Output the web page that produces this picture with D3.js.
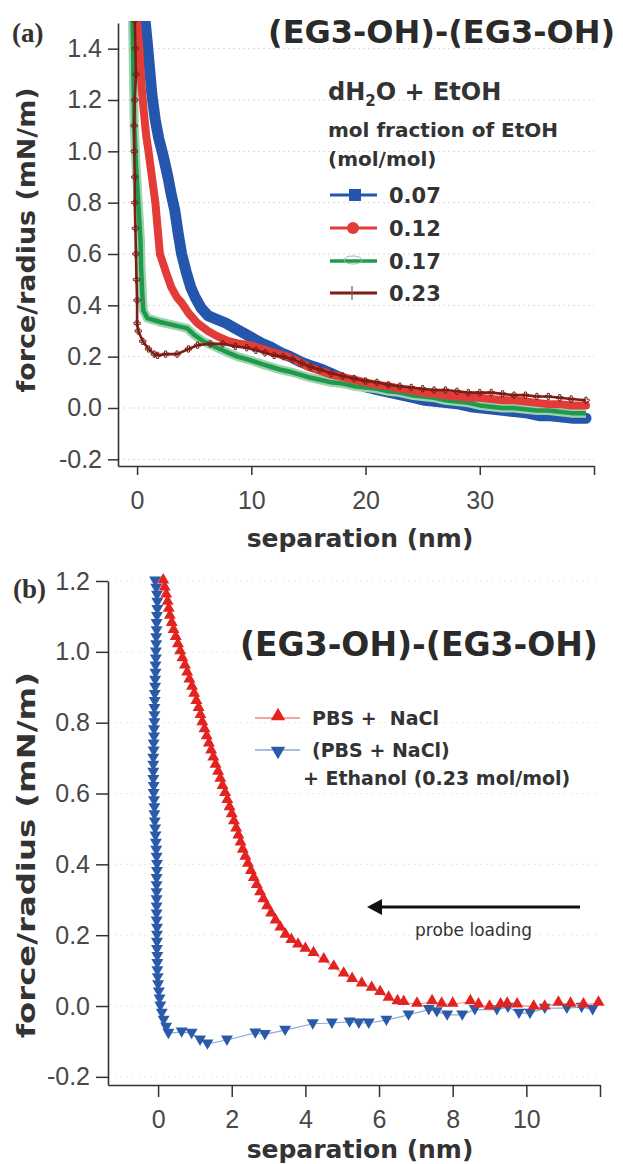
<!DOCTYPE html>
<html>
<head>
<meta charset="utf-8">
<script src="https://cdn.jsdelivr.net/npm/d3@7"></script>
<style>
  html, body { margin: 0; padding: 0; background: #fff; }
  svg { display: block; }
  .bold { font-family: "DejaVu Sans", Verdana, sans-serif; font-weight: bold; }
  .tick text { font-family: "Liberation Sans", Arial, sans-serif; }
</style>
</head>
<body>
<svg id="chart" width="623" height="1164"></svg>
<script>
// ---------------- DATA ----------------
// Panel (a): force/radius (mN/m) vs separation (nm), dH2O + EtOH
const legendA = ["0.07", "0.12", "0.17", "0.23"];
const seriesA007 = [[0.7,1.51],[0.9,1.42],[1.1,1.32],[1.3,1.22],[1.6,1.12],[1.9,1.05],[2.3,0.98],[2.7,0.9],[3.0,0.83],[3.3,0.77],[3.6,0.68],[3.9,0.6],[4.3,0.53],[4.7,0.47],[5.1,0.43],[5.6,0.39],[6.2,0.36],[7.0,0.345],[7.8,0.33],[8.6,0.31],[9.4,0.29],[10.2,0.27],[11.0,0.25],[11.8,0.235],[12.6,0.215],[13.4,0.2],[14.3,0.18],[15.2,0.165],[16.2,0.15],[17.2,0.13],[18.2,0.11],[19.2,0.095],[20.2,0.08],[21.2,0.07],[22.2,0.06],[23.2,0.05],[24.2,0.04],[25.2,0.03],[26.2,0.025],[27.2,0.02],[28.2,0.015],[29.2,0.005],[30.2,0.0],[31.2,-0.005],[32.2,-0.01],[33.2,-0.015],[34.2,-0.02],[35.2,-0.03],[36.2,-0.03],[37.2,-0.035],[38.2,-0.04],[39.3,-0.04]];
const seriesA012 = [[0.0,1.51],[0.2,1.4],[0.4,1.25],[0.6,1.15],[0.8,1.06],[1.0,1.0],[1.3,0.9],[1.6,0.8],[1.8,0.7],[2.0,0.6],[2.3,0.56],[2.6,0.52],[3.0,0.47],[3.5,0.43],[3.9,0.41],[4.5,0.37],[5.3,0.33],[6.2,0.3],[7.0,0.28],[8.0,0.26],[9.0,0.25],[9.9,0.245],[11.0,0.23],[12.0,0.215],[13.2,0.2],[14.2,0.18],[15.0,0.16],[16.0,0.145],[17.0,0.13],[18.0,0.12],[19.0,0.11],[20.0,0.1],[21.0,0.09],[22.0,0.085],[23.0,0.075],[24.0,0.07],[25.0,0.06],[26.0,0.055],[27.0,0.05],[28.0,0.045],[29.0,0.04],[30.0,0.04],[31.0,0.035],[32.0,0.03],[33.0,0.03],[34.0,0.025],[35.0,0.02],[36.0,0.015],[37.0,0.015],[38.0,0.01],[39.3,0.01]];
const seriesA017 = [[-0.4,1.51],[-0.35,1.4],[-0.3,1.25],[-0.25,1.1],[-0.1,0.95],[0.1,0.8],[0.3,0.65],[0.35,0.55],[0.45,0.45],[0.55,0.38],[0.9,0.35],[2.0,0.335],[3.0,0.325],[4.4,0.31],[5.0,0.285],[5.8,0.26],[7.0,0.235],[8.0,0.215],[8.8,0.2],[10.0,0.185],[11.0,0.17],[12.5,0.15],[13.5,0.14],[15.0,0.12],[16.0,0.11],[17.0,0.1],[18.0,0.095],[19.0,0.085],[20.0,0.08],[21.0,0.075],[22.0,0.065],[23.0,0.06],[24.0,0.05],[25.0,0.045],[26.0,0.04],[27.0,0.03],[28.0,0.025],[29.0,0.02],[30.0,0.01],[31.0,0.005],[32.0,0.0],[33.0,0.0],[34.0,-0.005],[35.0,-0.01],[36.0,-0.01],[37.0,-0.015],[38.0,-0.02],[39.3,-0.02]];
const seriesA023 = [[-0.2,1.51],[-0.15,1.4],[-0.1,1.3],[-0.2,1.2],[-0.25,1.1],[-0.25,1.0],[-0.2,0.9],[-0.2,0.8],[-0.15,0.7],[-0.1,0.6],[-0.05,0.5],[0.0,0.42],[0.0,0.33],[0.1,0.3],[0.5,0.26],[1.0,0.23],[1.5,0.21],[1.8,0.205],[2.5,0.21],[3.5,0.21],[4.5,0.23],[5.3,0.245],[6.4,0.25],[7.5,0.25],[8.6,0.24],[9.6,0.235],[10.4,0.225],[11.2,0.215],[12.0,0.205],[12.8,0.2],[13.6,0.19],[14.4,0.175],[15.2,0.16],[16.0,0.15],[17.0,0.135],[18.0,0.125],[19.0,0.115],[20.0,0.105],[21.0,0.1],[22.0,0.09],[23.0,0.085],[24.0,0.08],[25.0,0.075],[26.0,0.07],[27.0,0.07],[28.0,0.065],[29.0,0.06],[30.0,0.06],[31.0,0.06],[32.0,0.055],[33.0,0.05],[34.0,0.05],[35.0,0.045],[36.0,0.045],[37.0,0.04],[38.0,0.035],[39.3,0.03]];
const yTicksA = [-0.2, 0.0, 0.2, 0.4, 0.6, 0.8, 1.0, 1.2, 1.4];
const xTicksA = [0, 10, 20, 30, 40];
const xTickLabelsA = ["0", "10", "20", "30", ""];

// Panel (b)
const legendB = ["PBS +  NaCl", "(PBS + NaCl)", "+ Ethanol (0.23 mol/mol)"];
const seriesPBS = [[0.14,1.2],[0.18,1.18],[0.22,1.16],[0.26,1.14],[0.29,1.12],[0.32,1.1],[0.37,1.08],[0.42,1.06],[0.48,1.04],[0.54,1.02],[0.6,1.0],[0.66,0.98],[0.73,0.96],[0.79,0.94],[0.85,0.92],[0.92,0.9],[0.98,0.88],[1.04,0.86],[1.1,0.84],[1.15,0.82],[1.2,0.8],[1.26,0.78],[1.32,0.76],[1.38,0.74],[1.44,0.72],[1.5,0.7],[1.56,0.68],[1.63,0.66],[1.69,0.64],[1.75,0.62],[1.82,0.6],[1.88,0.58],[1.94,0.56],[2.0,0.54],[2.06,0.52],[2.12,0.5],[2.18,0.48],[2.24,0.46],[2.3,0.44],[2.37,0.42],[2.44,0.4],[2.52,0.38],[2.6,0.36],[2.68,0.34],[2.77,0.32],[2.86,0.3],[2.96,0.28],[3.07,0.26],[3.19,0.24],[3.32,0.22],[3.46,0.2],[3.62,0.185],[3.8,0.172],[4.0,0.16],[4.22,0.148],[4.5,0.13],[4.77,0.11],[5.04,0.09],[5.27,0.075],[5.53,0.062],[5.8,0.05],[6.03,0.038],[6.26,0.022],[6.5,0.012],[6.67,0.01],[7.03,0.005],[7.44,0.012],[7.7,0.005],[8.0,0.005],[8.48,0.012],[8.7,0.003],[9.0,-0.003],[9.3,0.003],[9.48,0.005],[9.75,0.003],[10.2,-0.003],[10.5,-0.003],[10.87,0.008],[11.2,0.005],[11.55,0.003],[11.96,0.008]];
const seriesEtOH = [[-0.08,1.2],[-0.05,1.18],[-0.03,1.16],[-0.02,1.14],[-0.02,1.12],[-0.03,1.1],[-0.04,1.08],[-0.04,1.06],[-0.05,1.04],[-0.05,1.02],[-0.06,1.0],[-0.06,0.98],[-0.07,0.96],[-0.07,0.94],[-0.08,0.92],[-0.08,0.9],[-0.09,0.88],[-0.09,0.86],[-0.1,0.84],[-0.1,0.82],[-0.1,0.8],[-0.11,0.78],[-0.11,0.76],[-0.12,0.74],[-0.12,0.72],[-0.13,0.7],[-0.13,0.68],[-0.13,0.66],[-0.13,0.64],[-0.12,0.62],[-0.12,0.6],[-0.11,0.58],[-0.1,0.56],[-0.1,0.54],[-0.09,0.52],[-0.08,0.5],[-0.07,0.48],[-0.06,0.46],[-0.05,0.44],[-0.04,0.42],[-0.03,0.4],[-0.03,0.38],[-0.04,0.36],[-0.04,0.34],[-0.04,0.32],[-0.04,0.3],[-0.04,0.28],[-0.04,0.26],[-0.04,0.24],[-0.03,0.22],[-0.03,0.2],[-0.03,0.18],[-0.03,0.16],[-0.02,0.14],[-0.02,0.12],[-0.02,0.1],[-0.01,0.08],[0.0,0.06],[0.02,0.04],[0.04,0.02],[0.06,0.0],[0.1,-0.02],[0.15,-0.04],[0.22,-0.06],[0.28,-0.077],[0.64,-0.073],[0.91,-0.077],[1.14,-0.096],[1.34,-0.107],[1.87,-0.096],[2.64,-0.076],[2.9,-0.08],[3.45,-0.068],[4.2,-0.05],[4.72,-0.048],[5.2,-0.045],[5.45,-0.048],[5.72,-0.048],[6.2,-0.04],[6.8,-0.025],[7.35,-0.01],[7.57,-0.016],[7.85,-0.025],[8.26,-0.025],[8.6,-0.01],[9.2,-0.01],[9.5,-0.003],[9.8,-0.02],[10.1,-0.02],[10.5,-0.006],[11.1,-0.006],[11.5,-0.003],[11.8,-0.01]];
const yTicksB = [-0.2, 0.0, 0.2, 0.4, 0.6, 0.8, 1.0, 1.2];
const xTicksB = [0, 2, 4, 6, 8, 10, 12];
const xTickLabelsB = ["0", "2", "4", "6", "8", "10", ""];

const titleText = "(EG3-OH)-(EG3-OH)";
const xTitle = "separation (nm)";
const yTitle = "force/radius (mN/m)";

// ---------------- DRAW ----------------
const svg = d3.select("#chart");
const ink = "#333";
const tickInk = "#484848";
const fmt = d => d.toFixed(1);

// ===== Panel (a) =====
const xA = d3.scaleLinear().domain([-1.67, 40]).range([118, 594]);
const yA = d3.scaleLinear().domain([-0.226, 1.5]).range([466, 23]);

const gA = svg.append("g");
gA.append("g").selectAll("line").data(yTicksA).join("line")
  .attr("x1", xA(-1.67)).attr("x2", xA(40))
  .attr("y1", d => yA(d)).attr("y2", d => yA(d))
  .attr("stroke", "#d9d9d9").attr("stroke-width", 1).attr("stroke-dasharray", "2,3");

svg.append("clipPath").attr("id", "clipA").append("rect")
  .attr("x", xA(-1.67)).attr("y", yA(1.5) - 2).attr("width", xA(40) - xA(-1.67) + 4).attr("height", yA(-0.226) - yA(1.5) + 2);

const lineA = d3.line().x(d => xA(d[0])).y(d => yA(d[1]));
const plotA = gA.append("g").attr("clip-path", "url(#clipA)");
const colA = { b: "#2556ad", r: "#e23b38", g: "#1f9a4c", br: "#7a1f16" };

plotA.append("path").datum(seriesA007).attr("d", lineA).attr("fill", "none")
  .attr("stroke", colA.b).attr("stroke-width", 11).attr("stroke-linejoin", "round").attr("stroke-linecap", "round");
plotA.append("path").datum(seriesA017).attr("d", lineA).attr("fill", "none")
  .attr("stroke", "#9ed2ad").attr("stroke-width", 9).attr("stroke-linejoin", "round");
plotA.append("path").datum(seriesA017).attr("d", lineA).attr("fill", "none")
  .attr("stroke", colA.g).attr("stroke-width", 4.5).attr("stroke-linejoin", "round");
plotA.append("path").datum(seriesA012).attr("d", lineA).attr("fill", "none")
  .attr("stroke", colA.r).attr("stroke-width", 8).attr("stroke-linejoin", "round").attr("stroke-linecap", "round");
plotA.append("path").datum(seriesA023).attr("d", lineA).attr("fill", "none")
  .attr("stroke", colA.br).attr("stroke-width", 2.6).attr("stroke-linejoin", "round");
plotA.append("g").selectAll("path").data(seriesA023).join("path")
  .attr("transform", d => `translate(${xA(d[0])},${yA(d[1])})`)
  .attr("d", d3.symbol(d3.symbolCross, 22)())
  .attr("fill", "none").attr("stroke", colA.br).attr("stroke-width", 1);

const axAy = gA.append("g").attr("transform", `translate(${xA(-1.67)},0)`)
  .call(d3.axisLeft(yA).tickValues(yTicksA).tickFormat(fmt).tickSize(10).tickSizeOuter(0).tickPadding(6));
const axAx = gA.append("g").attr("transform", `translate(0,${yA(-0.226)})`)
  .call(d3.axisBottom(xA).tickValues(xTicksA).tickFormat((d, i) => xTickLabelsA[i]).tickSize(9).tickSizeOuter(0).tickPadding(16));
[axAy, axAx].forEach(ax => {
  ax.select(".domain").attr("stroke", ink).attr("stroke-width", 1.6);
  ax.selectAll(".tick line").attr("stroke", ink).attr("stroke-width", 1.5);
  ax.selectAll(".tick text").attr("font-size", 25).attr("fill", tickInk);
});

gA.append("text").attr("class", "bold").attr("x", 360).attr("y", 547)
  .attr("text-anchor", "middle").attr("font-size", 25).attr("fill", ink).text(xTitle);
gA.append("text").attr("class", "bold").attr("transform", "translate(35,240) rotate(-90)")
  .attr("text-anchor", "middle").attr("font-size", 25).attr("fill", ink)
  .attr("textLength", 305).attr("lengthAdjust", "spacingAndGlyphs").text(yTitle);
gA.append("text").attr("class", "bold").attr("x", 268).attr("y", 43)
  .attr("font-size", 32).attr("fill", "#2a2a2a").text(titleText);
gA.append("text").attr("x", 12).attr("y", 42).attr("font-family", "'Liberation Serif', 'Times New Roman', serif")
  .attr("font-weight", "bold").attr("font-size", 27).attr("fill", ink).text("(a)");

// legend (a)
const head = gA.append("text").attr("class", "bold").attr("x", 328).attr("y", 100).attr("font-size", 24).attr("fill", ink);
head.append("tspan").text("dH");
head.append("tspan").attr("font-size", 15).attr("dy", 6).text("2");
head.append("tspan").attr("dy", -6).text("O + EtOH");
gA.append("text").attr("class", "bold").attr("x", 328).attr("y", 137).attr("font-size", 20).attr("fill", ink).text("mol fraction of EtOH");
gA.append("text").attr("class", "bold").attr("x", 328).attr("y", 166).attr("font-size", 20).attr("fill", ink).text("(mol/mol)");

const legY = [195, 228, 261, 293];
const legCols = [colA.b, colA.r, colA.g, colA.br];
const legG = gA.append("g");
legendA.forEach((lab, i) => {
  const y = legY[i];
  legG.append("line").attr("x1", 330).attr("x2", 377).attr("y1", y).attr("y2", y)
    .attr("stroke", legCols[i]).attr("stroke-width", i === 2 ? 3.5 : 3);
  if (i === 0) legG.append("rect").attr("x", 349).attr("y", y - 6).attr("width", 12).attr("height", 12).attr("fill", colA.b);
  if (i === 1) legG.append("circle").attr("cx", 353).attr("cy", y).attr("r", 6).attr("fill", colA.r);
  if (i === 2) legG.append("ellipse").attr("cx", 353).attr("cy", y - 1).attr("rx", 9).attr("ry", 4).attr("fill", "none").attr("stroke", "#9fb9a6").attr("stroke-width", 1);
  if (i === 3) legG.append("line").attr("x1", 352).attr("x2", 352).attr("y1", y - 7).attr("y2", y + 7).attr("stroke", "#7a5a55").attr("stroke-width", 1.2);
  legG.append("text").attr("class", "bold").attr("x", 389).attr("y", y + 8).attr("font-size", 21).attr("fill", ink).text(lab);
});

// ===== Panel (b) =====
const xB = d3.scaleLinear().domain([-1.36, 12]).range([108, 600]);
const yB = d3.scaleLinear().domain([-0.223, 1.2]).range([1085, 581]);
const gB = svg.append("g");

gB.append("g").selectAll("line").data(yTicksB).join("line")
  .attr("x1", xB(-1.36)).attr("x2", xB(12))
  .attr("y1", d => yB(d)).attr("y2", d => yB(d))
  .attr("stroke", "#e6e6e6").attr("stroke-width", 1).attr("stroke-dasharray", "2,4");

const lineB = d3.line().x(d => xB(d[0])).y(d => yB(d[1]));
const redB = "#e3231f", blueB = "#2a5aa8";
const triUp = d3.symbol(d3.symbolTriangle, 62)();

gB.append("path").datum(seriesEtOH).attr("d", lineB).attr("fill", "none").attr("stroke", "#8fa9d6").attr("stroke-width", 1.2);
gB.append("g").selectAll("path").data(seriesEtOH).join("path")
  .attr("transform", d => `translate(${xB(d[0])},${yB(d[1]) - 1}) rotate(180)`)
  .attr("d", triUp).attr("fill", blueB);
gB.append("path").datum(seriesPBS).attr("d", lineB).attr("fill", "none").attr("stroke", "#f08a80").attr("stroke-width", 1.2);
gB.append("g").selectAll("path").data(seriesPBS).join("path")
  .attr("transform", d => `translate(${xB(d[0])},${yB(d[1]) - 1})`)
  .attr("d", triUp).attr("fill", redB);

const axBy = gB.append("g").attr("transform", `translate(${xB(-1.36)},0)`)
  .call(d3.axisLeft(yB).tickValues(yTicksB).tickFormat(fmt).tickSize(12).tickSizeOuter(0).tickPadding(6));
const axBx = gB.append("g").attr("transform", `translate(0,${yB(-0.223)})`)
  .call(d3.axisBottom(xB).tickValues(xTicksB).tickFormat((d, i) => xTickLabelsB[i]).tickSize(12).tickSizeOuter(0).tickPadding(13));
[axBy, axBx].forEach(ax => {
  ax.select(".domain").attr("stroke", ink).attr("stroke-width", 1.6);
  ax.selectAll(".tick line").attr("stroke", ink).attr("stroke-width", 1.5);
  ax.selectAll(".tick text").attr("font-size", 25).attr("fill", tickInk);
});

gB.append("text").attr("class", "bold").attr("x", 360).attr("y", 1158)
  .attr("text-anchor", "middle").attr("font-size", 25).attr("fill", ink).text(xTitle);
gB.append("text").attr("class", "bold").attr("transform", "translate(35,855) rotate(-90)")
  .attr("text-anchor", "middle").attr("font-size", 25).attr("fill", ink)
  .attr("textLength", 366).attr("lengthAdjust", "spacingAndGlyphs").text(yTitle);
gB.append("text").attr("class", "bold").attr("x", 240).attr("y", 656)
  .attr("font-size", 33).attr("fill", "#2a2a2a").text(titleText);
gB.append("text").attr("x", 13).attr("y", 598).attr("font-family", "'Liberation Serif', 'Times New Roman', serif")
  .attr("font-weight", "bold").attr("font-size", 27).attr("fill", ink).text("(b)");

// legend (b)
const lgB = gB.append("g");
lgB.append("line").attr("x1", 255).attr("x2", 300).attr("y1", 718).attr("y2", 718).attr("stroke", "#f08a80").attr("stroke-width", 1.5);
lgB.append("path").attr("transform", "translate(278,716)").attr("d", d3.symbol(d3.symbolTriangle, 90)()).attr("fill", redB);
lgB.append("line").attr("x1", 255).attr("x2", 300).attr("y1", 750).attr("y2", 750).attr("stroke", "#8fa9d6").attr("stroke-width", 1.5);
lgB.append("path").attr("transform", "translate(278,751) rotate(180)").attr("d", d3.symbol(d3.symbolTriangle, 90)()).attr("fill", blueB);
lgB.append("text").attr("class", "bold").attr("x", 312).attr("y", 725).attr("font-size", 19).attr("fill", ink).style("white-space", "pre").text(legendB[0]);
lgB.append("text").attr("class", "bold").attr("x", 312).attr("y", 757).attr("font-size", 19).attr("fill", ink).text(legendB[1]);
lgB.append("text").attr("class", "bold").attr("x", 303).attr("y", 785).attr("font-size", 19).attr("fill", ink).text(legendB[2]);

// arrow "probe loading"
gB.append("line").attr("x1", 580).attr("x2", 378).attr("y1", 907).attr("y2", 907).attr("stroke", "#111").attr("stroke-width", 3.2);
gB.append("path").attr("d", "M367,907 L382,899 L382,915 Z").attr("fill", "#111");
gB.append("text").attr("x", 415).attr("y", 936).attr("font-family", "'DejaVu Sans', Verdana, sans-serif")
  .attr("font-size", 17).attr("fill", ink).text("probe loading");
</script>
</body>
</html>
